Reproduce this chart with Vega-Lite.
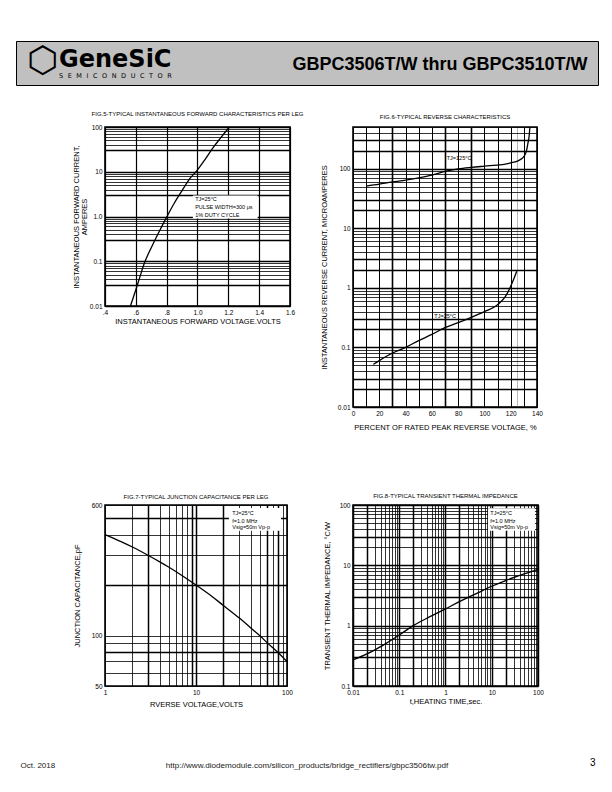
{
  "$schema": "https://vega.github.io/schema/vega-lite/v6.json",
  "background": "white",
  "padding": {"left": 12, "top": 40, "right": 15, "bottom": 0},
  "config": {
    "font": "Liberation Sans",
    "view": {"stroke": "#000", "strokeWidth": 1.6},
    "axis": {"domain": false, "ticks": false, "gridColor": "#000", "gridOpacity": 1, "labelColor": "#000", "titleColor": "#000", "labelFont": "Liberation Sans", "titleFont": "Liberation Sans", "labelFontSize": 6.5, "titleFontSize": 7.5, "titleFontWeight": "normal", "labelPadding": 3, "labelOverlap": false, "labelFlush": false, "labelBound": false},
    "title": {"font": "Liberation Sans", "fontSize": 6, "fontWeight": "normal", "color": "#000", "anchor": "middle", "frame": "group", "offset": 8},
    "line": {"color": "#000", "strokeWidth": 1.3},
    "text": {"color": "#000"}
  },
  "spacing": 21,
  "vconcat": [
    {
      "width": 582, "height": 44,
      "view": {"fill": "#c0c0c0", "stroke": "#000", "strokeWidth": 1},
      "data": {"values": [{"a": 0}]},
      "mark": {"type": "point", "opacity": 0},
      "encoding": {
        "x": {"field": "a", "type": "quantitative", "scale": {"domain": [0, 1]}, "axis": {"labels": false, "grid": false, "title": "GBPC3506T/W thru GBPC3510T/W", "titleX": 571, "titleY": -16, "titleAlign": "right", "titleBaseline": "alphabetic", "titleFontSize": 18, "titleFontWeight": "bold", "titleColor": "#000"}},
        "y": {"field": "a", "type": "quantitative", "scale": {"domain": [0, 1]}, "axis": {"labels": false, "grid": false, "title": "⬡", "titleAngle": 0, "titleX": 26, "titleY": 19, "titleAlign": "center", "titleBaseline": "middle", "titleFontSize": 36, "titleFont": "DejaVu Sans", "titleFontWeight": "bold"}}
      },
      "title": {"text": "GeneSiC", "subtitle": "S\u2002\u2009E\u2002\u2009M\u2002\u2009I\u2002\u2009C\u2002\u2009O\u2002\u2009N\u2002\u2009D\u2002\u2009U\u2002\u2009C\u2002\u2009T\u2002\u2009O\u2002\u2009R", "anchor": "start", "frame": "group", "orient": "top", "offset": -38, "dx": 43, "fontSize": 24, "font": "DejaVu Sans", "fontWeight": "bold", "subtitleFont": "DejaVu Sans", "subtitleFontSize": 6.5, "subtitlePadding": 0.5, "subtitleColor": "#000"}
    },
    {
      "spacing": 47,
      "vconcat": [
        {
          "columns": 2,
          "align": "each",
          "spacing": 10,
          "concat": [
            {
              "width": 45, "height": 1,
              "view": {"stroke": null},
              "data": {"values": [{"a": 0}]},
              "mark": {"type": "point", "opacity": 0, "size": 1}
            },
            {
              "columns": 2,
              "align": "each",
              "spacing": {"row": 60, "column": 13},
              "concat": [
                {
                  "width": 185, "height": 179,
                  "title": {"text": "FIG.5-TYPICAL  INSTANTANEOUS FORWARD CHARACTERISTICS PER LEG", "offset": 7},
                  "encoding": {
                    "x": {"field": "x", "type": "quantitative", "scale": {"domain": [0.4, 1.6], "nice": false, "zero": false},
                      "axis": {"values": [0.4, 0.6, 0.8, 1.0, 1.2, 1.4, 1.6], "labelExpr": "datum.value == 0.4 ? '.4' : datum.value == 0.6 ? '.6' : datum.value == 0.8 ? '.8' : format(datum.value, '.1f')", "title": "INSTANTANEOUS FORWARD VOLTAGE.VOLTS", "gridWidth": 1.2, "titlePadding": 2}},
                    "y": {"field": "y", "type": "quantitative", "scale": {"type": "log", "domain": [0.01, 100], "nice": false},
                      "axis": {"values": [0.01, 0.03, 0.04, 0.05, 0.06, 0.07, 0.08, 0.09, 0.1, 0.3, 0.4, 0.5, 0.6, 0.7, 0.8, 0.9, 1, 3, 4, 5, 6, 7, 8, 9, 10, 30, 40, 50, 60, 70, 80, 90, 100],
                        "labelExpr": "datum.value == 100 ? '100' : datum.value == 10 ? '10' : datum.value == 1 ? '1.0' : datum.value == 0.1 ? '0.1' : datum.value == 0.01 ? '0.01' : ''",
                        "title": ["INSTANTANEOUS FORWARD CURRENT,", "AMPERES"], "titleLineHeight": 8, "titlePadding": 1,
                        "gridWidth": {"condition": {"test": "indexof([0.01, 0.1, 1, 10, 100, 0.03, 0.3, 3, 30], datum.value) >= 0", "value": 1.5}, "value": 0.8}}}
                  },
                  "layer": [
                    {"data": {"values": [{"x": 0.97, "x2": 1.39, "y": 0.9, "y2": 2.95}]}, "mark": {"type": "rect", "fill": "#fff"}, "encoding": {"x2": {"field": "x2"}, "y2": {"field": "y2"}}},
                    {"data": {"values": [
                      {"x": 0.565, "y": 0.01}, {"x": 0.6, "y": 0.023}, {"x": 0.625, "y": 0.043}, {"x": 0.655, "y": 0.09}, {"x": 0.7, "y": 0.2}, {"x": 0.75, "y": 0.45}, {"x": 0.8, "y": 0.97}, {"x": 0.85, "y": 2.0}, {"x": 0.9, "y": 3.8}, {"x": 0.95, "y": 7.0}, {"x": 1.0, "y": 11}, {"x": 1.05, "y": 19}, {"x": 1.1, "y": 34}, {"x": 1.15, "y": 57}, {"x": 1.207, "y": 100}
                    ]}, "mark": {"type": "line", "interpolate": "monotone"}},
                    {"data": {"values": [
                      {"x": 0.985, "y": 2.46, "t": "TJ=25°C"}, {"x": 0.985, "y": 1.6, "t": "PULSE WIDTH=300 μs"}, {"x": 0.985, "y": 1.1, "t": "1% DUTY CYCLE"}
                    ]}, "mark": {"type": "text", "align": "left", "baseline": "middle", "fontSize": 5.5}, "encoding": {"text": {"field": "t"}}}
                  ]
                },
                {
                  "width": 184, "height": 280,
                  "title": {"text": "FIG.6-TYPICAL REVERSE CHARACTERISTICS", "offset": 4},
                  "encoding": {
                    "x": {"field": "x", "type": "quantitative", "scale": {"domain": [0, 140], "nice": false, "zero": false},
                      "axis": {"values": [0, 10, 20, 30, 40, 50, 60, 70, 80, 90, 100, 110, 120, 125, 130, 140], "labelExpr": "datum.value % 20 == 0 ? datum.label : ''", "title": "PERCENT OF RATED PEAK REVERSE VOLTAGE, %", "labelPadding": 3, "titlePadding": 7,
                        "gridWidth": {"condition": [{"test": "datum.value == 125", "value": 0.6}, {"test": "datum.value == 30 || datum.value == 70 || datum.value == 90", "value": 1.6}], "value": 1.0},
                        "gridColor": {"condition": {"test": "datum.value == 125", "value": "#888"}, "value": "#000"}}},
                    "y": {"field": "y", "type": "quantitative", "scale": {"type": "log", "domain": [0.01, 500], "nice": false},
                      "axis": {"values": [0.01, 0.02, 0.03, 0.04, 0.05, 0.06, 0.07, 0.08, 0.09, 0.1, 0.2, 0.3, 0.4, 0.5, 0.6, 0.7, 0.8, 0.9, 1, 2, 3, 4, 5, 6, 7, 8, 9, 10, 20, 30, 40, 50, 60, 70, 80, 90, 100, 200, 300, 400, 500],
                        "labelExpr": "datum.value == 0.01 ? '0.01' : datum.value == 0.1 ? '0.1' : datum.value == 1 ? '1' : datum.value == 10 ? '10' : datum.value == 100 ? '100' : ''",
                        "title": "INSTANTANEOUS REVERSE CURRENT, MICROAMPERES", "titlePadding": 9,
                        "gridWidth": {"condition": {"test": "indexof([0.01, 0.1, 1, 10, 100, 0.02, 0.2, 2, 20, 200, 0.03, 0.3, 3, 30, 300], datum.value) >= 0", "value": 1.4}, "value": 0.8}}}
                  },
                  "layer": [
                    {"data": {"values": [
                      {"s": "125", "x": 10, "y": 51}, {"s": "125", "x": 20, "y": 55}, {"s": "125", "x": 30, "y": 60}, {"s": "125", "x": 40, "y": 64}, {"s": "125", "x": 50, "y": 70}, {"s": "125", "x": 60, "y": 78}, {"s": "125", "x": 70, "y": 90}, {"s": "125", "x": 80, "y": 99}, {"s": "125", "x": 90, "y": 105}, {"s": "125", "x": 100, "y": 110}, {"s": "125", "x": 110, "y": 115}, {"s": "125", "x": 115, "y": 118}, {"s": "125", "x": 120, "y": 125}, {"s": "125", "x": 125, "y": 134}, {"s": "125", "x": 128, "y": 145}, {"s": "125", "x": 130, "y": 160}, {"s": "125", "x": 132, "y": 200}, {"s": "125", "x": 133, "y": 260}, {"s": "125", "x": 134, "y": 350}, {"s": "125", "x": 134.6, "y": 500},
                      {"s": "25", "x": 15.5, "y": 0.052}, {"s": "25", "x": 20, "y": 0.06}, {"s": "25", "x": 29.4, "y": 0.079}, {"s": "25", "x": 40, "y": 0.1}, {"s": "25", "x": 50, "y": 0.13}, {"s": "25", "x": 60, "y": 0.165}, {"s": "25", "x": 70, "y": 0.215}, {"s": "25", "x": 80, "y": 0.26}, {"s": "25", "x": 90, "y": 0.32}, {"s": "25", "x": 100, "y": 0.4}, {"s": "25", "x": 109, "y": 0.5}, {"s": "25", "x": 113, "y": 0.6}, {"s": "25", "x": 116, "y": 0.72}, {"s": "25", "x": 119.5, "y": 1.0}, {"s": "25", "x": 122, "y": 1.35}, {"s": "25", "x": 124.6, "y": 1.9}
                    ]}, "mark": {"type": "line", "interpolate": "monotone"}, "encoding": {"detail": {"field": "s"}}},
                    {"data": {"values": [
                      {"x": 71.3, "y": 151, "t": "TJ=125°C"}, {"x": 61.9, "y": 0.343, "t": "TJ=25°C"}
                    ]}, "mark": {"type": "text", "align": "left", "baseline": "middle", "fontSize": 5.5}, "encoding": {"text": {"field": "t"}}}
                  ]
                },
                {
                  "width": 182, "height": 181,
                  "title": {"text": "FIG.7-TYPICAL JUNCTION CAPACITANCE PER LEG", "offset": 2},
                  "encoding": {
                    "x": {"field": "x", "type": "quantitative", "scale": {"type": "log", "domain": [1, 100], "nice": false},
                      "axis": {"values": [1, 2, 3, 4, 5, 6, 7, 8, 9, 10, 20, 30, 40, 50, 60, 70, 80, 90, 100], "labelExpr": "datum.value == 1 ? '1' : datum.value == 10 ? '10' : datum.value == 100 ? '100' : ''", "title": "RVERSE VOLTAGE,VOLTS", "labelPadding": 3, "titlePadding": 5,
                        "gridWidth": {"condition": {"test": "indexof([3, 9, 10, 20, 60, 80], datum.value) >= 0", "value": 1.5}, "value": 0.8}}},
                    "y": {"field": "y", "type": "quantitative", "scale": {"type": "log", "domain": [50, 600], "nice": false},
                      "axis": {"values": [50, 60, 70, 80, 90, 100, 200, 300, 400, 500, 600], "labelExpr": "datum.value == 50 ? '50' : datum.value == 100 ? '100' : datum.value == 600 ? '600' : ''", "title": "JUNCTION CAPACITANCE,pF", "titlePadding": 10,
                        "gridWidth": {"condition": {"test": "indexof([80, 200, 500], datum.value) >= 0", "value": 1.5}, "value": 0.8}}}
                  },
                  "layer": [
                    {"data": {"values": [{"x": 23, "x2": 86, "y": 421, "y2": 575}]}, "mark": {"type": "rect", "fill": "#fff"}, "encoding": {"x2": {"field": "x2"}, "y2": {"field": "y2"}}},
                    {"data": {"values": [
                      {"x": 1, "y": 400}, {"x": 1.5, "y": 363}, {"x": 2, "y": 337}, {"x": 3, "y": 300}, {"x": 4, "y": 275}, {"x": 5, "y": 256}, {"x": 7, "y": 228}, {"x": 10, "y": 200}, {"x": 15, "y": 171}, {"x": 20, "y": 151}, {"x": 30, "y": 127}, {"x": 40, "y": 111}, {"x": 50, "y": 100}, {"x": 60, "y": 91}, {"x": 80, "y": 79}, {"x": 100, "y": 70}
                    ]}, "mark": {"type": "line", "interpolate": "monotone"}},
                    {"data": {"values": [
                      {"x": 25, "y": 537, "t": "TJ=25°C"}, {"x": 25, "y": 483, "t": "f=1.0 MHz"}, {"x": 25, "y": 441, "t": "Vsig=50m Vp-p"}
                    ]}, "mark": {"type": "text", "align": "left", "baseline": "middle", "fontSize": 5.5}, "encoding": {"text": {"field": "t"}}}
                  ]
                },
                {
                  "width": 185, "height": 181,
                  "title": {"text": "FIG.8-TYPICAL TRANSIENT THERMAL IMPEDANCE", "offset": 3},
                  "encoding": {
                    "x": {"field": "x", "type": "quantitative", "scale": {"type": "log", "domain": [0.01, 100], "nice": false},
                      "axis": {"values": [0.01, 0.02, 0.03, 0.04, 0.05, 0.06, 0.07, 0.08, 0.09, 0.1, 0.2, 0.3, 0.4, 0.5, 0.6, 0.7, 0.8, 0.9, 1, 2, 3, 4, 5, 6, 7, 8, 9, 10, 20, 30, 40, 50, 60, 70, 80, 90, 100],
                        "labelExpr": "datum.value == 0.01 ? '0.01' : datum.value == 0.1 ? '0.1' : datum.value == 1 ? '1' : datum.value == 10 ? '10' : datum.value == 100 ? '100' : ''",
                        "title": "t,HEATING TIME,sec.", "labelPadding": 3, "titlePadding": 2,
                        "gridWidth": {"condition": {"test": "indexof([0.01, 0.1, 1, 10, 100, 0.02, 0.2, 2, 20], datum.value) >= 0", "value": 1.5}, "value": 0.8}}},
                    "y": {"field": "y", "type": "quantitative", "scale": {"type": "log", "domain": [0.1, 100], "nice": false},
                      "axis": {"values": [0.1, 0.2, 0.3, 0.4, 0.5, 0.6, 0.7, 0.8, 0.9, 1, 2, 3, 4, 5, 6, 7, 8, 9, 10, 20, 30, 40, 50, 60, 70, 80, 90, 100],
                        "labelExpr": "datum.value == 0.1 ? '0.1' : datum.value == 1 ? '1' : datum.value == 10 ? '10' : datum.value == 100 ? '100' : ''",
                        "title": "TRANSIENT THERMAL IMPEDANCE, °C/W", "titlePadding": 8,
                        "gridWidth": {"condition": {"test": "indexof([0.1, 1, 10, 100, 0.3, 3, 30], datum.value) >= 0", "value": 1.5}, "value": 0.8}}}
                  },
                  "layer": [
                    {"data": {"values": [{"x": 8.3, "x2": 86, "y": 37.5, "y2": 88}]}, "mark": {"type": "rect", "fill": "#fff"}, "encoding": {"x2": {"field": "x2"}, "y2": {"field": "y2"}}},
                    {"data": {"values": [
                      {"x": 0.01, "y": 0.27}, {"x": 0.02, "y": 0.34}, {"x": 0.05, "y": 0.5}, {"x": 0.1, "y": 0.7}, {"x": 0.2, "y": 1.0}, {"x": 0.5, "y": 1.45}, {"x": 1, "y": 1.9}, {"x": 2, "y": 2.5}, {"x": 5, "y": 3.5}, {"x": 10, "y": 4.5}, {"x": 20, "y": 5.6}, {"x": 50, "y": 7.2}, {"x": 100, "y": 8.6}
                    ]}, "mark": {"type": "line", "interpolate": "monotone"}},
                    {"data": {"values": [
                      {"x": 9.3, "y": 73.6, "t": "TJ=25°C"}, {"x": 9.3, "y": 55, "t": "f=1.0 MHz"}, {"x": 9.3, "y": 42.6, "t": "Vsig=50m Vp-p"}
                    ]}, "mark": {"type": "text", "align": "left", "baseline": "middle", "fontSize": 5.5}, "encoding": {"text": {"field": "t"}}}
                  ]
                }
              ]
            }
          ]
        },
        {
          "width": 582, "height": 12,
          "view": {"stroke": null},
          "data": {"values": [{"a": 0}]},
          "mark": {"type": "point", "opacity": 0},
          "encoding": {
            "x": {"field": "a", "type": "quantitative", "scale": {"domain": [0, 1]}, "axis": {"labels": false, "grid": false, "title": "Oct. 2018", "titleX": 4, "titleY": -1, "titleAlign": "left", "titleBaseline": "alphabetic", "titleFontSize": 8, "titleColor": "#222"}},
            "y": {"field": "a", "type": "quantitative", "scale": {"domain": [0, 1]}, "axis": {"labels": false, "grid": false, "title": "3", "titleAngle": 0, "titleX": 579, "titleY": 9, "titleAlign": "right", "titleBaseline": "alphabetic", "titleFontSize": 10, "titleColor": "#000"}}
          },
          "title": {"text": "http://www.diodemodule.com/silicon_products/bridge_rectifiers/gbpc3506tw.pdf", "anchor": "middle", "frame": "group", "orient": "top", "baseline": "alphabetic", "offset": -20, "fontSize": 8.1, "color": "#222"}
        }
      ]
    }
  ]
}
